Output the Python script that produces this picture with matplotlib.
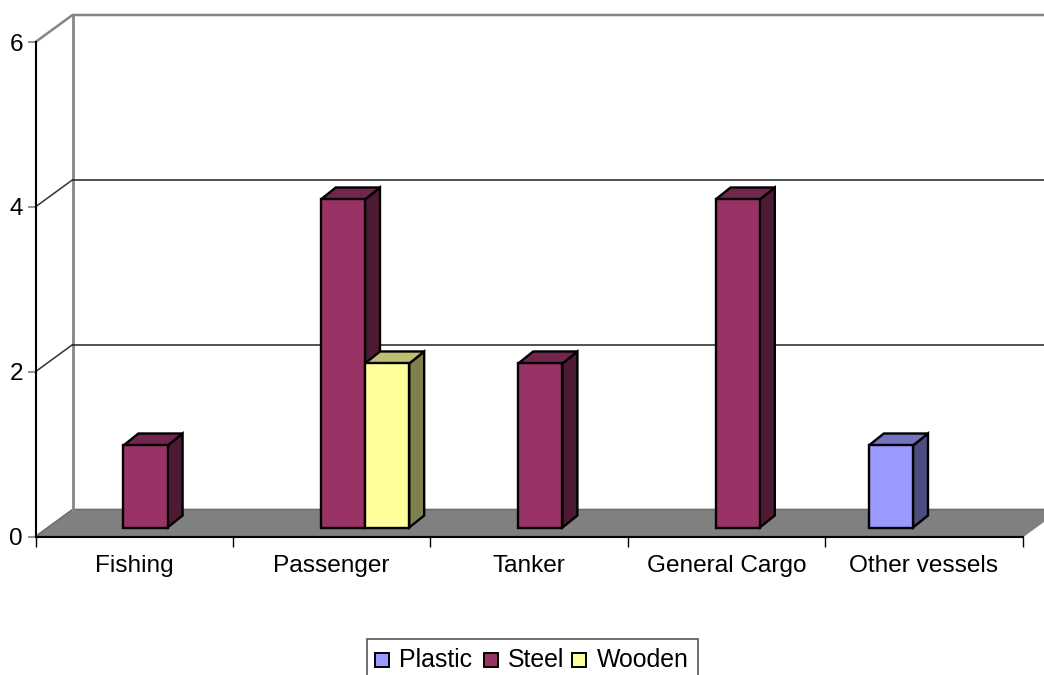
import matplotlib
matplotlib.use('Agg')
import matplotlib.pyplot as plt
from matplotlib.patches import Polygon, Rectangle
from matplotlib.ticker import NullFormatter
import numpy as np

plt.rcParams['font.family'] = ['Liberation Sans', 'DejaVu Sans']

# VARIABLES
categories = ['Fishing', 'Passenger', 'Tanker', 'General Cargo', 'Other vessels']
series_names = ['Plastic', 'Steel', 'Wooden']
plastic = [0, 0, 0, 0, 1]
steel = [1, 4, 2, 4, 0]
wooden = [0, 2, 0, 0, 0]
yticks = [0, 2, 4, 6]

# (front, top, side) shades per series
colors = {
    'Plastic': ('#9999FF', '#7373BF', '#4D4D80'),
    'Steel': ('#993366', '#73264D', '#4D1A33'),
    'Wooden': ('#FFFF99', '#BFBF73', '#80804D'),
}

W, H = 1044, 675
fig = plt.figure(figsize=(W / 100, H / 100), dpi=100)
left, right, bottom, top = 35.5, 1022.5, 536.5, 42.0
ax = fig.add_axes([left / W, 1 - bottom / H, (right - left) / W, (bottom - top) / H])
ax.set_xlim(0, 5)
ax.set_ylim(0, 6)
ax.patch.set_visible(False)

# pixel sizes converted to data units for the fake 3d depth
px_x = 5 / (right - left)
px_y = 6 / (bottom - top)
depth_x, depth_y = 37 * px_x, 27 * px_y
bar_dx, bar_dy = 11.3 * px_x, 9 * px_y
side_x, side_y = 15 * px_x, 12 * px_y
bar_w = 44.2 * px_x
bar_scale = 0.995  # bars sit further back, so they come out slightly shorter
grey = '#868686'


def add_poly(pts, fc='none', ec='k', lw=1.7, z=3):
    ax.add_patch(Polygon(pts, closed=True, facecolor=fc, edgecolor=ec, linewidth=lw,
                         zorder=z, clip_on=False, joinstyle='miter'))


# WALLS AND FLOOR
add_poly([(0, 0), (depth_x, depth_y), (5 + depth_x, depth_y), (5, 0)], fc='#808080', ec='#6E6E6E', lw=1.2, z=1)
ax.plot([depth_x, depth_x], [depth_y, 6 + depth_y], color=grey, lw=2, zorder=1, clip_on=False)
ax.plot([0, depth_x, 5 + depth_x], [6, 6 + depth_y, 6 + depth_y], color=grey, lw=1.8, zorder=1, clip_on=False)
for v in yticks[1:-1]:
    ax.plot([0, depth_x], [v, v + depth_y], color='#333333', lw=1.1, zorder=1, clip_on=False)
    ax.plot([depth_x, 5 + depth_x], [v + depth_y, v + depth_y], color='#222222', lw=1.1, zorder=1, clip_on=False)
ax.plot([5, 5 + depth_x], [0, depth_y], color=grey, lw=1, zorder=1, clip_on=False)


# BARS
def draw_bar(x, v, shades):
    y0 = bar_dy
    y1 = v * bar_scale + bar_dy
    x1 = x + bar_w
    add_poly([(x1, y0), (x1 + side_x, y0 + side_y), (x1 + side_x, y1 + side_y), (x1, y1)], fc=shades[2])
    add_poly([(x, y1), (x + side_x, y1 + side_y), (x1 + side_x, y1 + side_y), (x1, y1)], fc=shades[1])
    ax.add_patch(Rectangle((x, y0), bar_w, y1 - y0, facecolor=shades[0], edgecolor='k', linewidth=1.7,
                           zorder=3, clip_on=False, joinstyle='miter'))


for offset, name, values in zip([-1.5, -0.5, 0.5], series_names, [plastic, steel, wooden]):
    for i, v in enumerate(values):
        if v > 0:
            draw_bar(i + 0.5 + bar_dx + offset * bar_w, v, colors[name])

# AXES
for s in ['top', 'right']:
    ax.spines[s].set_visible(False)
for s in ['left', 'bottom']:
    ax.spines[s].set_linewidth(1.5)
    ax.spines[s].set_zorder(4)
ax.set_yticks(yticks)
ax.tick_params(axis='y', labelsize=17.6, length=6, width=1.2, pad=3, color='#808080')
ax.set_xticks(np.arange(6))
ax.xaxis.set_major_formatter(NullFormatter())
ax.set_xticks(np.arange(5) + 0.5, minor=True)
ax.set_xticklabels(categories, minor=True)
ax.tick_params(axis='x', which='major', length=7, width=1)
ax.tick_params(axis='x', which='minor', length=0, labelsize=17.6, pad=13)

# LEGEND
fig.add_artist(Rectangle((367 / W, -2 / H), 331 / W, 38 / H, transform=fig.transFigure,
                         facecolor='white', edgecolor='#555555', linewidth=1.2))
for name, sx, tx in zip(series_names, [375, 484, 572], [399, 508, 597]):
    fig.add_artist(Rectangle((sx / W, 1 - 667 / H), 14 / W, 14 / H, transform=fig.transFigure,
                             facecolor=colors[name][0], edgecolor='k', linewidth=1.4))
    fig.text(tx / W, 1 - 660 / H, name, fontsize=17.9, va='center', ha='left')

fig.savefig('out.png', dpi=100)
plt.close(fig)
